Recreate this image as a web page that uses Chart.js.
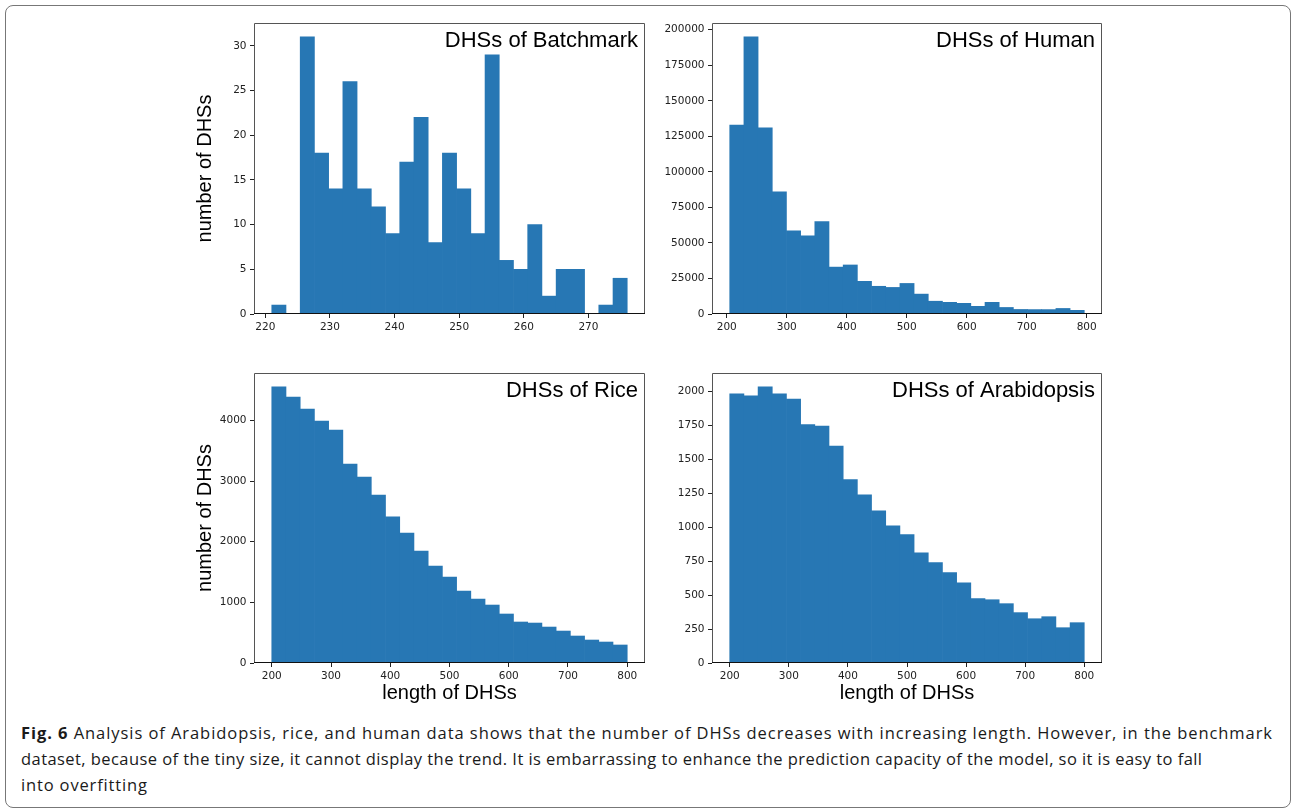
<!DOCTYPE html>
<html>
<head>
<meta charset="utf-8">
<script src="https://cdn.jsdelivr.net/npm/chart.js@4.4.0/dist/chart.umd.min.js"></script>
<style>
  html, body { margin: 0; padding: 0; background: #fff; }
  body { width: 1292px; height: 809px; position: relative; overflow: hidden; }
  .frame { position: absolute; left: 5px; top: 5px; width: 1286px; height: 803px; box-sizing: border-box;
           border: 1.5px solid #777; border-radius: 8px; }
  canvas { position: absolute; }
  .caption { position: absolute; left: 21px; top: 720px; font-family: 'Open Sans', sans-serif;
             font-size: 16.5px; color: #1a1a1a; }
  .caption div { white-space: nowrap; height: 26px; line-height: 26px; width: max-content; }
  .caption b { font-weight: 700; }
</style>
</head>
<body>
<div class="frame"></div>
<canvas id="batchmark" width="460" height="350" style="left:190px;top:0px"></canvas>
<canvas id="human" width="460" height="350" style="left:650px;top:0px"></canvas>
<canvas id="rice" width="460" height="365" style="left:190px;top:350px"></canvas>
<canvas id="arabidopsis" width="460" height="365" style="left:650px;top:350px"></canvas>
<div class="caption">
  <div data-w="1251"><b>Fig. 6</b> Analysis of Arabidopsis, rice, and human data shows that the number of DHSs decreases with increasing length. However, in the benchmark</div>
  <div data-w="1181">dataset, because of the tiny size, it cannot display the trend. It is embarrassing to enhance the prediction capacity of the model, so it is easy to fall</div>
  <div data-w="126">into overfitting</div>
</div>
<script>
// counts per bin
const batchmarkCounts = [1, 0, 31, 18, 14, 26, 14, 12, 9, 17, 22, 8, 18, 14, 9, 29, 6, 5, 10, 2, 5, 5, 0, 1, 4];
const humanCounts = [133000, 195000, 131000, 86000, 58500, 55000, 65000, 33000, 34500, 23000, 19500, 18700, 21500,
  14000, 9000, 8200, 7500, 5400, 8200, 4600, 3200, 3100, 3100, 3900, 2600];
const riceCounts = [4555, 4385, 4187, 3989, 3841, 3280, 3066, 2769, 2412, 2143, 1846, 1599, 1418, 1187, 1055, 956,
  808, 676, 659, 593, 527, 445, 379, 346, 297];
const arabidopsisCounts = [1983, 1968, 2034, 1983, 1944, 1755, 1745, 1598, 1350, 1239, 1121, 1011, 945, 812, 739, 665,
  591, 474, 466, 437, 371, 326, 341, 260, 297];

// histogram ranges (first bin start, last bin end)
const batchmarkRange = [221, 276];
const humanRange = [205, 796];
const riceRange = [200, 800];
const arabidopsisRange = [200, 800];

// tick values
const batchmarkXTicks = [220, 230, 240, 250, 260, 270];
const lengthXTicks = [200, 300, 400, 500, 600, 700, 800];
const batchmarkYTicks = [0, 5, 10, 15, 20, 25, 30];
const humanYTicks = [0, 25000, 50000, 75000, 100000, 125000, 150000, 175000, 200000];
const riceYTicks = [0, 1000, 2000, 3000, 4000];
const arabidopsisYTicks = [0, 250, 500, 750, 1000, 1250, 1500, 1750, 2000];

const barColor = '#2777b4';
const sansFont = '"Liberation Sans", Arial, Helvetica, sans-serif';

Chart.defaults.font.family = '"DejaVu Sans", sans-serif';
Chart.defaults.color = '#222';

function toBins(counts, range) {
  const w = (range[1] - range[0]) / counts.length;
  return counts.map((c, i) => ({ x: range[0] + w * (i + 0.5), y: c }));
}

// axes box, like matplotlib spines
const framePlugin = {
  id: 'frame',
  afterDatasetsDraw(chart) {
    const { ctx, chartArea: a } = chart;
    const l = Math.round(a.left) + 0.5, r = Math.round(a.right) - 0.5;
    const t = Math.round(a.top) + 0.5, b = Math.round(a.bottom) - 0.5;
    ctx.save();
    ctx.lineWidth = 1;
    ctx.strokeStyle = '#555';
    ctx.beginPath();
    ctx.moveTo(l, b); ctx.lineTo(l, t); ctx.lineTo(r, t); ctx.lineTo(r, b);
    ctx.stroke();
    ctx.strokeStyle = '#111';
    ctx.beginPath();
    ctx.moveTo(l - 0.5, b); ctx.lineTo(r + 0.5, b);
    ctx.stroke();
    ctx.restore();
  }
};

const panelTitle = {
  id: 'panelTitle',
  afterDraw(chart, args, opts) {
    const { ctx, chartArea } = chart;
    ctx.save();
    ctx.font = '22px ' + sansFont;
    ctx.fillStyle = '#000';
    ctx.textAlign = 'right';
    ctx.textBaseline = 'alphabetic';
    ctx.fillText(opts.text, chartArea.right - 7, chartArea.top + 24);
    ctx.restore();
  }
};

function drawHist(id, cfg) {
  const span = cfg.range[1] - cfg.range[0];
  const top = Math.max(...cfg.counts);
  const tickGrid = { drawOnChartArea: false, drawTicks: true, tickLength: 4, tickColor: '#222', offset: false };
  new Chart(document.getElementById(id), {
    type: 'bar',
    data: {
      datasets: [{
        data: toBins(cfg.counts, cfg.range),
        backgroundColor: (c) => (c.raw && c.raw.y === 0 ? 'rgba(0,0,0,0)' : barColor),
        borderWidth: 0,
        barPercentage: 1,
        categoryPercentage: 1
      }]
    },
    options: {
      responsive: false,
      animation: false,
      layout: { padding: { top: 23, right: cfg.padRight, left: 0, bottom: 0 } },
      plugins: {
        legend: { display: false },
        tooltip: { enabled: false },
        panelTitle: { text: cfg.title }
      },
      scales: {
        x: {
          type: 'linear',
          min: cfg.range[0] - span * 0.05,
          max: cfg.range[1] + span * 0.05,
          offset: false,
          grid: tickGrid,
          border: { display: false },
          ticks: { padding: 3, font: { size: 10.5 }, maxRotation: 0, autoSkip: false, callback: (v) => String(v) },
          afterBuildTicks: (s) => { s.ticks = cfg.xTicks.map((v) => ({ value: v })); },
          afterFit: (s) => { s.height = cfg.xHeight; },
          title: {
            display: !!cfg.xTitle,
            text: cfg.xTitle || '',
            color: '#000',
            font: { family: sansFont, size: 20 },
            padding: { top: 0, bottom: 10 }
          }
        },
        y: {
          min: 0,
          max: top * 1.05,
          grid: tickGrid,
          border: { display: false },
          ticks: { padding: 3.5, font: { size: 10.5 }, autoSkip: false, callback: (v) => String(v) },
          afterBuildTicks: (s) => { s.ticks = cfg.yTicks.map((v) => ({ value: v })); },
          afterFit: (s) => { s.width = cfg.yWidth; },
          title: {
            display: !!cfg.yTitle,
            text: cfg.yTitle || '',
            color: '#000',
            font: { family: sansFont, size: 20 },
            padding: { top: 3, bottom: 0 }
          }
        }
      }
    },
    plugins: [framePlugin, panelTitle]
  });
}

drawHist('batchmark', {
  counts: batchmarkCounts, range: batchmarkRange, xTicks: batchmarkXTicks, yTicks: batchmarkYTicks,
  title: 'DHSs of Batchmark', yTitle: 'number of DHSs', yWidth: 64, xHeight: 36, padRight: 5
});
drawHist('human', {
  counts: humanCounts, range: humanRange, xTicks: lengthXTicks, yTicks: humanYTicks,
  title: 'DHSs of Human', yWidth: 62, xHeight: 36, padRight: 8
});
drawHist('rice', {
  counts: riceCounts, range: riceRange, xTicks: lengthXTicks, yTicks: riceYTicks,
  title: 'DHSs of Rice', yTitle: 'number of DHSs', xTitle: 'length of DHSs', yWidth: 64, xHeight: 52, padRight: 5
});
drawHist('arabidopsis', {
  counts: arabidopsisCounts, range: arabidopsisRange, xTicks: lengthXTicks, yTicks: arabidopsisYTicks,
  title: 'DHSs of Arabidopsis', xTitle: 'length of DHSs', yWidth: 62, xHeight: 52, padRight: 8
});

// fit caption lines to the widths in the figure
document.fonts.ready.then(() => {
  document.querySelectorAll('.caption div').forEach((line) => {
    const target = +line.dataset.w;
    const natural = line.getBoundingClientRect().width;
    const n = line.textContent.length - 1;
    line.style.letterSpacing = ((target - natural) / n) + 'px';
  });
});
</script>
</body>
</html>
